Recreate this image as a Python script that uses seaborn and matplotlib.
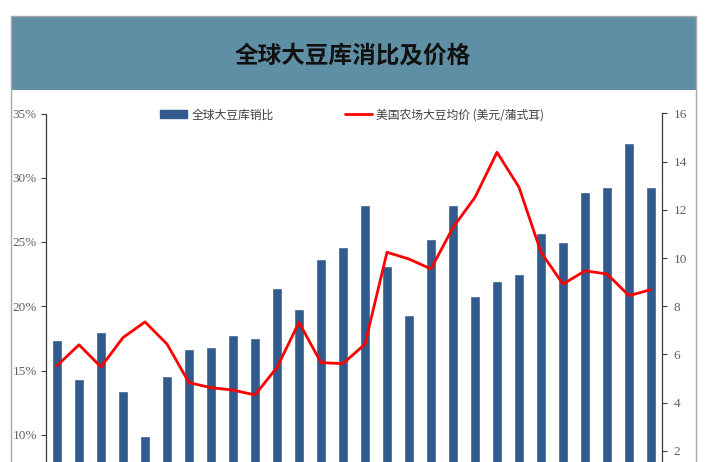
import numpy as np
import pandas as pd
import matplotlib
matplotlib.use("Agg")
import matplotlib.pyplot as plt
import seaborn as sns
from matplotlib.patches import Rectangle, Patch
from matplotlib.lines import Line2D

# ---- data ----
years = [str(y) for y in range(1992, 2020)]
stock_use_ratio = [17.4, 14.3, 18.0, 13.4, 9.9, 14.6, 16.7, 16.8, 17.8, 17.5,
                   21.4, 19.8, 23.7, 24.6, 27.9, 23.1, 19.3, 25.2, 27.9, 20.8,
                   22.0, 22.5, 25.7, 25.0, 28.9, 29.3, 32.7, 29.3]
us_price = [5.53, 6.40, 5.48, 6.70, 7.35, 6.43, 4.83, 4.62, 4.52, 4.32,
            5.46, 7.33, 5.66, 5.62, 6.43, 10.24, 9.96, 9.55, 11.27, 12.52,
            14.39, 12.94, 10.24, 8.92, 9.47, 9.34, 8.44, 8.69]
left_ticks = [10, 15, 20, 25, 30, 35]
right_ticks = [2, 4, 6, 8, 10, 12, 14, 16]
title_text = "全球大豆库消比及价格"
bar_label = "全球大豆库销比"
line_label = "美国农场大豆均价 (美元/蒲式耳)"

df = pd.DataFrame({"year": years, "ratio": stock_use_ratio,
                   "price": us_price, "pos": np.arange(len(years))})

sns.set_theme(style="white")
plt.rcParams['font.family'] = ['Liberation Serif', 'Noto Sans CJK SC', 'DejaVu Sans']

BAR = "#315a8d"
TITLE_BG = "#5e8fa5"
W, H = 720, 462

fig = plt.figure(figsize=(7.2, 4.62), dpi=100)

# title band and outer frame
fig.patches.append(Rectangle((10.5 / W, 1 - 90 / H), (696 - 10.5) / W, 74 / H,
                             transform=fig.transFigure, facecolor=TITLE_BG,
                             edgecolor="none", zorder=-2))
fig.patches.append(Rectangle((10.5 / W, -0.1), (696 - 10.5) / W, 1 - 16 / H + 0.1,
                             transform=fig.transFigure, facecolor="none",
                             edgecolor="#a8a8a8", lw=1.0, zorder=-1))
fig.text(353 / W, 1 - 55 / H, title_text, ha="center", va="center",
         fontsize=17, fontweight="bold", color="#111111",
         family=['Noto Sans CJK SC', 'DejaVu Sans'])

ax = fig.add_axes([46 / W, 1 - 499 / H, 616 / W, (499 - 113.5) / H])
ax.set_facecolor("none")
sns.barplot(data=df, x="year", y="ratio", color=BAR, width=0.42,
            saturation=1, ax=ax)
ax.set_ylim(5, 35)
ax.set_yticks(left_ticks)
ax.set_yticklabels([f"{t}%" for t in left_ticks])
ax.set_xlabel("")
ax.set_ylabel("")

ax2 = ax.twinx()
ax2.set_facecolor("none")
sns.lineplot(data=df, x="pos", y="price", color="#ff0000", lw=2.0, ax=ax2)
ax2.set_ylim(0, 16)
ax2.set_yticks(right_ticks)
ax2.set_yticklabels([str(t) for t in right_ticks])
ax2.set_ylabel("")
ax2.set_xlabel("")
ax.set_xlim(-0.5, len(years) - 0.5)

for a in (ax, ax2):
    for s in ("top", "bottom"):
        a.spines[s].set_visible(False)
ax.spines["right"].set_visible(False)
ax2.spines["left"].set_visible(False)
ax.spines["left"].set_color("#3a3a3a")
ax2.spines["right"].set_color("#3a3a3a")
ax.spines["left"].set_linewidth(0.9)
ax2.spines["right"].set_linewidth(0.9)

ax.tick_params(axis="y", left=True, direction="out", length=3.5, width=0.8,
               color="#3a3a3a", pad=3, labelsize=9.5, labelcolor="#606060")
ax2.tick_params(axis="y", right=True, direction="out", length=3.5, width=0.8,
                color="#3a3a3a", pad=5, labelsize=9.5, labelcolor="#606060")
ax.tick_params(axis="x", bottom=False, labelbottom=False)

handles = [Patch(facecolor=BAR, edgecolor=BAR),
           Line2D([], [], color="#ff0000", lw=2)]
fig.legend(handles, [bar_label, line_label], loc="center",
           bbox_to_anchor=(352 / W, 1 - 115 / H), ncol=2, frameon=False,
           prop={"family": ['Noto Sans CJK SC', 'DejaVu Sans'], "size": 8.5},
           labelcolor="#404040", handlelength=2.3, handleheight=0.65,
           handletextpad=0.35, columnspacing=6.0)

fig.savefig("out.png", dpi=100)
